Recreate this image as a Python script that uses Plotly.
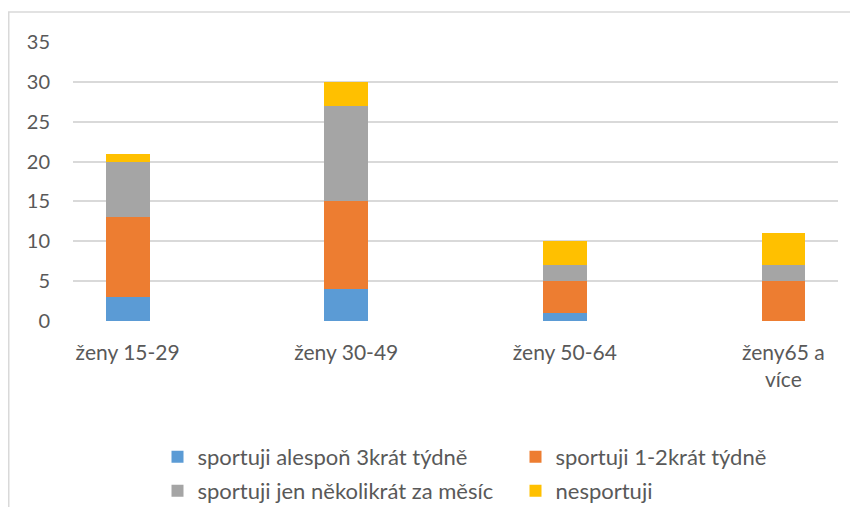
import plotly.graph_objects as go

categories = ["ženy 15-29", "ženy 30-49", "ženy 50-64", "ženy65 a<br>více"]
series_names = ["sportuji alespoň 3krát týdně", "sportuji 1-2krát týdně",
                "sportuji jen několikrát za měsíc", "nesportuji"]
v_3x = [3, 4, 1, 0]
v_12x = [10, 11, 4, 5]
v_month = [7, 12, 2, 2]
v_none = [1, 3, 3, 4]
y_ticks = [0, 5, 10, 15, 20, 25, 30, 35]

colors = ["#5B9BD5", "#ED7D31", "#A5A5A5", "#FFC000"]
values = [v_3x, v_12x, v_month, v_none]
legend_ids = ["legend", "legend", "legend2", "legend2"]

FONT = "Lato"
TXT = "#595959"

# page has an 8px body margin, so the figure is drawn 8px smaller/offset
W, H = 850, 499
ML, MR, MT, MB = 65, 20, 34, 186
PW, PH = W - ML - MR, H - MT - MB

fig = go.Figure()
for name, vals, col, lg in zip(series_names, values, colors, legend_ids):
    fig.add_trace(go.Bar(x=categories, y=vals, name=name, marker_color=col,
                         marker_line_width=0, width=0.2, legend=lg))

leg_common = dict(orientation="h", xanchor="left", yanchor="middle",
                  entrywidth=313, entrywidthmode="pixels", itemwidth=30,
                  font=dict(family=FONT, size=22, color=TXT), traceorder="normal",
                  bgcolor="rgba(0,0,0,0)")

LX = 0.117 - 5 / PW
fig.update_layout(
    barmode="stack",
    width=W, height=H,
    margin=dict(l=ML, r=MR, t=MT, b=MB, autoexpand=False),
    paper_bgcolor="white", plot_bgcolor="white",
    font=dict(family=FONT, size=21, color=TXT),
    showlegend=True,
    legend=dict(x=LX, y=-(449 - 313) / PH, **leg_common),
    legend2=dict(x=LX, y=-(483 - 313) / PH, **leg_common),
    xaxis=dict(range=[-0.25, 3.25], showgrid=False, showline=False, ticks="",
               ticklabelstandoff=17, tickfont=dict(size=21, color=TXT)),
    yaxis=dict(range=[0, 35], tickvals=y_ticks, showgrid=True, gridcolor="#D9D9D9",
               gridwidth=1.5, zeroline=False, showline=False, ticks="",
               ticklabelstandoff=22, tickfont=dict(size=20, color=TXT)),
    shapes=[dict(type="rect", xref="paper", yref="paper",
                 x0=(0.75 - ML) / PW, x1=1.3, y0=-1.0, y1=(313 - 4) / PH,
                 line=dict(color="#D9D9D9", width=1.5), fillcolor="rgba(0,0,0,0)",
                 layer="below")],
)

fig.write_html("out.html")
